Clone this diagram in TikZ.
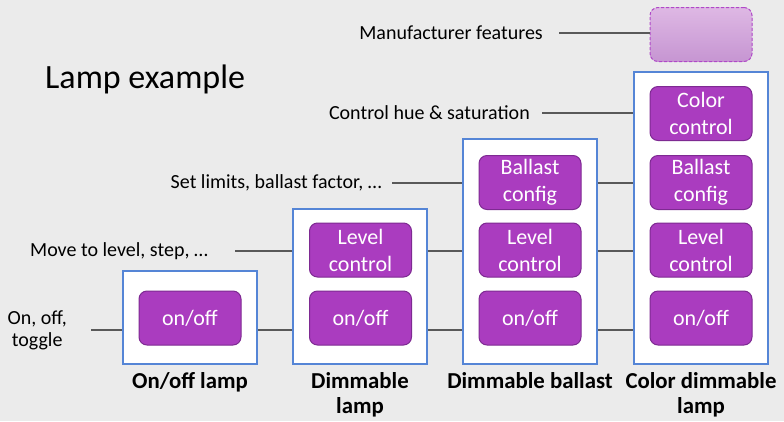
\documentclass[tikz,border=0pt]{standalone}
\usepackage{fontspec}
\setmainfont{Carlito}
\usetikzlibrary{positioning,calc}

\definecolor{bggray}{HTML}{EBEBEB}
\definecolor{lampblue}{HTML}{5585D6}
\definecolor{featpurple}{HTML}{AA3CBF}
\definecolor{featedge}{HTML}{7E2A92}
\definecolor{linegray}{HTML}{595959}
\definecolor{mfgtop}{HTML}{DEB8E4}
\definecolor{mfgbot}{HTML}{C695D2}
\definecolor{mfgedge}{HTML}{B048C8}

\begin{document}
\begin{tikzpicture}[
    x=1pt, y=-1pt,
    lamp/.style={rectangle, draw=lampblue, line width=1.8pt, fill=white, minimum width=134pt},
    feature/.style={rectangle, rounded corners=8pt, draw=featedge, line width=1pt, fill=featpurple, text=white, minimum width=102pt, minimum height=54pt, font=\fontsize{22}{27}\selectfont, align=center, inner sep=0pt},
    lbl/.style={font=\fontsize{20}{22}\selectfont, align=center, inner sep=0pt},
    lampname/.style={font=\fontsize{22.8}{25}\selectfont\bfseries, align=center, inner sep=0pt},
    link/.style={draw=linegray, line width=1.3pt}
]

\fill[bggray] (0,0) rectangle (784,421);
\useasboundingbox (0,0) rectangle (784,421);

% Title
\node[font=\fontsize{34}{40}\selectfont, anchor=base west, inner sep=0pt] (title) at (45,88) {Lamp example};

% Lamps
\node[lamp, minimum height=93pt] (lampA) at (190,317.5) {};
\node[lamp, minimum height=155pt] (lampB) at (360,286.5) {};
\node[lamp, minimum height=225pt] (lampC) at (530,251.5) {};
\node[lamp, minimum height=292pt] (lampD) at (701,218) {};

% Features
\node[feature] (onoffA) at (190,318) {on/off};
\node[feature] (onoffB) at (360.5,318) {on/off};
\node[feature] (levelB) at (360.5,250) {Level\\control};
\node[feature] (onoffC) at (530,318) {on/off};
\node[feature] (levelC) at (530,250) {Level\\control};
\node[feature] (ballastC) at (530,182.5) {Ballast\\config};
\node[feature] (onoffD) at (701,318) {on/off};
\node[feature] (levelD) at (701,250) {Level\\control};
\node[feature] (ballastD) at (701,182.5) {Ballast\\config};
\node[feature] (colorD) at (701,113.5) {Color\\control};
\node[feature, draw=mfgedge, dash pattern=on 3pt off 2pt, top color=mfgtop, bottom color=mfgbot] (mfg) at (701,34.5) {};

% Lamp names
\node[lampname, below=7pt of lampA] (nameA) {On/off lamp};
\node[lampname, below=7pt of lampB] (nameB) {Dimmable\\lamp};
\node[lampname, below=7pt of lampC] (nameC) {Dimmable ballast};
\node[lampname, below=7pt of lampD] (nameD) {Color dimmable\\lamp};

% Labels
\coordinate (tgEnd) at (91,330);
\coordinate (mvEnd) at (235,251);
\coordinate (limEnd) at (392,183);
\coordinate (hueEnd) at (542,113);
\coordinate (mfEnd) at (559,33);
\node[lbl, left=24pt of tgEnd] (toggle) {On, off,\\toggle};
\node[lbl, left=27pt of mvEnd] (move) {Move to level, step, \dots};
\node[lbl, left=10pt of limEnd] (limits) {Set limits, ballast factor, \dots};
\node[lbl, left=12pt of hueEnd] (hue) {Control hue \& saturation};
\node[lbl, left=16pt of mfEnd] (manuf) {Manufacturer features};

% Lines
\draw[link] (tgEnd) -- (lampA.west |- tgEnd);
\draw[link] (lampA.east |- tgEnd) -- (lampB.west |- tgEnd);
\draw[link] (lampB.east |- tgEnd) -- (lampC.west |- tgEnd);
\draw[link] (lampC.east |- tgEnd) -- (lampD.west |- tgEnd);
\draw[link] (mvEnd) -- (lampB.west |- mvEnd);
\draw[link] (lampB.east |- mvEnd) -- (lampC.west |- mvEnd);
\draw[link] (lampC.east |- mvEnd) -- (lampD.west |- mvEnd);
\draw[link] (limEnd) -- (lampC.west |- limEnd);
\draw[link] (lampC.east |- limEnd) -- (lampD.west |- limEnd);
\draw[link] (hueEnd) -- (lampD.west |- hueEnd);
\draw[link] (mfEnd) -- (mfg.west |- mfEnd);

\end{tikzpicture}
\end{document}
